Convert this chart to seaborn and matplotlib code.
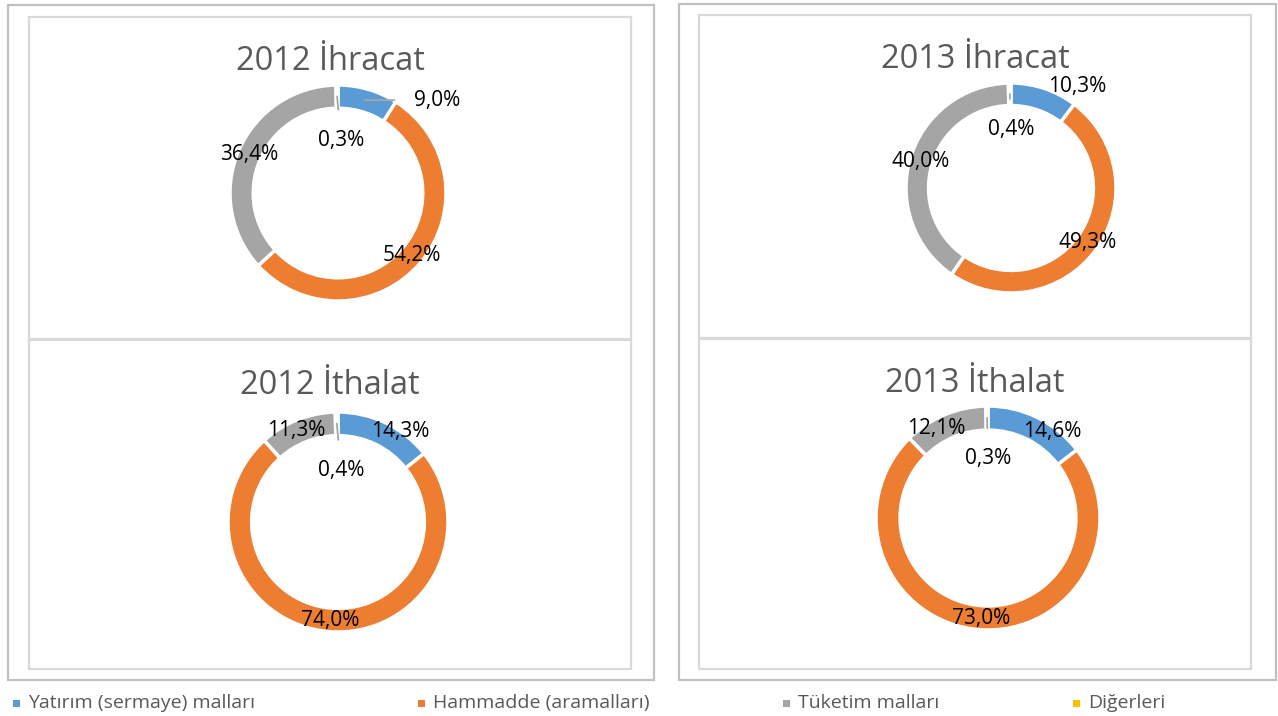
import matplotlib
matplotlib.use("Agg")
import matplotlib.pyplot as plt
import seaborn as sns
import numpy as np
from matplotlib.patches import Rectangle

# data
categories = ["Yatırım (sermaye) malları", "Hammadde (aramalları)", "Tüketim malları", "Diğerleri"]
titles = ["2012 İhracat", "2012 İthalat", "2013 İhracat", "2013 İthalat"]
ihracat_2012 = [9.0, 54.2, 36.4, 0.3]
ithalat_2012 = [14.3, 74.0, 11.3, 0.4]
ihracat_2013 = [10.3, 49.3, 40.0, 0.4]
ithalat_2013 = [14.6, 73.0, 12.1, 0.3]
series = [ihracat_2012, ithalat_2012, ihracat_2013, ithalat_2013]

sns.set_theme(style="white")
plt.rcParams["font.family"] = ["Open Sans", "DejaVu Sans"]
colors = ["#5B9BD5", "#ED7D31", "#A5A5A5", "#FFC000"]

W, H = 1278, 716
fig = plt.figure(figsize=(W / 100, H / 100), dpi=100)


def box(x0, y0, x1, y1, color, lw):
    fig.patches.append(Rectangle((x0 / W, 1 - y1 / H), (x1 - x0) / W, (y1 - y0) / H,
                                 transform=fig.transFigure, fill=False,
                                 edgecolor=color, linewidth=lw, zorder=0))


# outer frames and chart panels
box(8, 5, 654, 680, "#C0C0C0", 1.6)
box(679, 4, 1276, 680, "#C0C0C0", 1.6)
box(29, 17, 631, 339, "#D9D9D9", 1.6)
box(29, 340, 631, 669, "#D9D9D9", 1.6)
box(699, 15, 1251, 338, "#D9D9D9", 1.6)
box(699, 339, 1251, 669, "#D9D9D9", 1.6)

# donut placement (pixels): center x, center y, outer radius
geom = [(338, 193, 108), (338, 522, 110), (1011, 188, 105), (988, 518, 112)]
title_pos = [(330, 61), (330, 385), (975, 59), (975, 384)]
# manual label positions (axes data units) for crowded slices, None -> ring middle
label_pos = [
    [(0.92, 0.86), None, None, (0.03, 0.49)],
    [(0.57, 0.82), None, (-0.38, 0.83), (0.03, 0.47)],
    [(0.63, 0.97), None, None, (0.0, 0.56)],
    [(0.57, 0.77), None, (-0.46, 0.80), (0.0, 0.53)],
]
leader = [[True, False, False, True], [False, False, False, True],
          [False, False, False, True], [False, False, False, True]]

for vals, ttl, (cx, cy, R), (tx, ty), lp, ld in zip(series, titles, geom, title_pos, label_pos, leader):
    ax = fig.add_axes([(cx - R) / W, 1 - (cy + R) / H, 2 * R / W, 2 * R / H])
    ax.pie(vals, colors=colors, startangle=90, counterclock=False, radius=1,
           wedgeprops=dict(width=0.215, edgecolor="white", linewidth=2.5))
    ax.set_xlim(-1, 1)
    ax.set_ylim(-1, 1)
    ax.set_aspect("auto")
    ax.axis("off")
    total = sum(vals)
    start = 0.0
    for i, v in enumerate(vals):
        mid = (start + v / 2) / total * 2 * np.pi
        start += v
        rx, ry = 0.895 * np.sin(mid), 0.895 * np.cos(mid)
        txt = f"{v:.1f}%".replace(".", ",")
        if lp[i] is None:
            ax.text(rx, ry, txt, ha="center", va="center", fontsize=15, color="black")
        elif ld[i]:
            ax.annotate(txt, xy=(rx, ry), xytext=lp[i], ha="center", va="center",
                        fontsize=15, color="black",
                        arrowprops=dict(arrowstyle="-", color="#A6A6A6", lw=1.3,
                                        shrinkA=12, shrinkB=0))
        else:
            ax.text(lp[i][0], lp[i][1], txt, ha="center", va="center", fontsize=15, color="black")
    fig.text(tx / W, 1 - ty / H, ttl, ha="center", va="center", fontsize=23.5, color="#595959")

# legend along the bottom
leg_x = [13, 418, 783, 1073]
for c, lab, x in zip(colors, categories, leg_x):
    fig.patches.append(Rectangle((x / W, 1 - 707 / H), 7 / W, 7 / H, transform=fig.transFigure,
                                 facecolor=c, edgecolor="none"))
    fig.text((x + 15) / W, 1 - 703 / H, lab, ha="left", va="center", fontsize=14, color="#595959")

fig.savefig("out.png", dpi=100, facecolor="white")
